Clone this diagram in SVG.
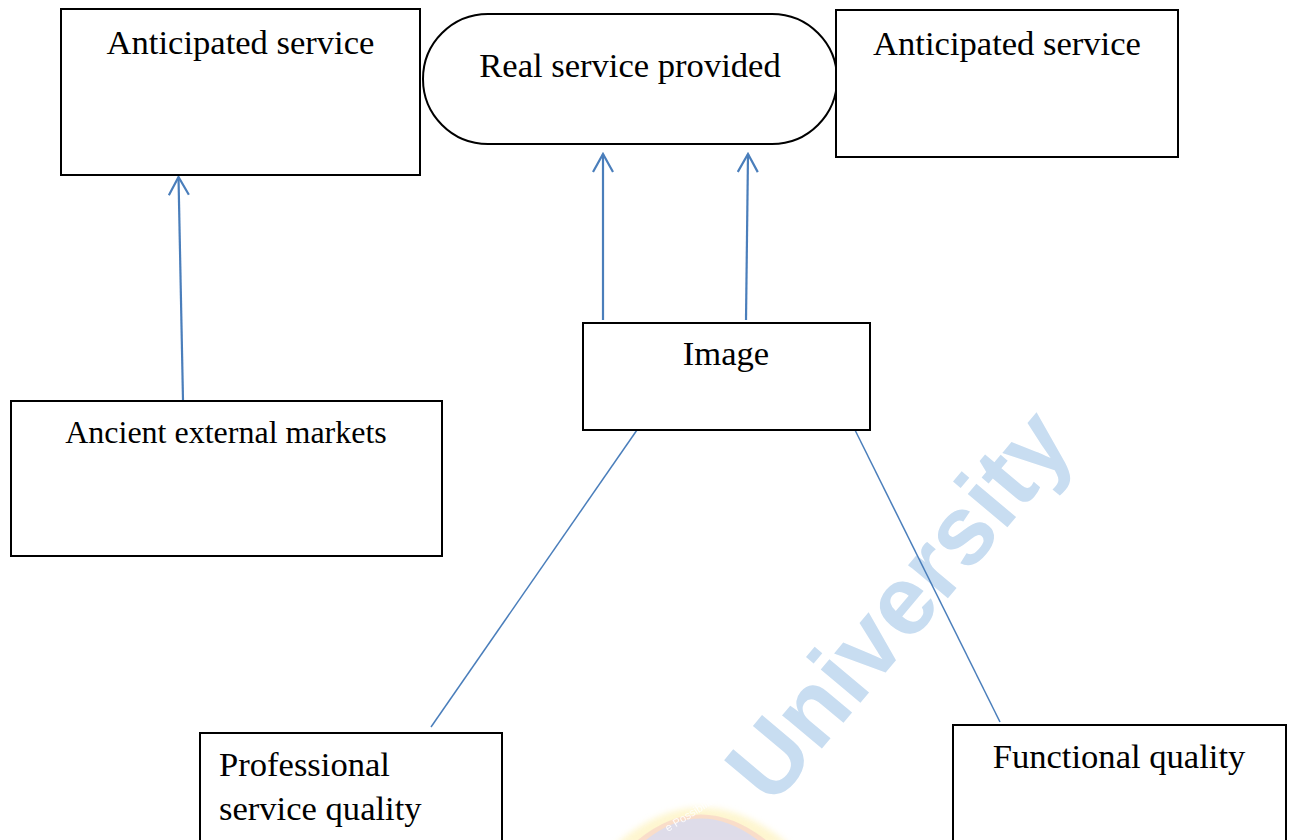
<svg xmlns="http://www.w3.org/2000/svg" width="1293" height="840" viewBox="0 0 1293 840">
  <style>
    .box { fill: #ffffff; stroke: #000000; stroke-width: 2; }
    .label { font-family: "Liberation Serif", "Times New Roman", serif; font-size: 34.6px; fill: #000000; }
    .small { font-size: 32px; }
    .arrow { stroke: #4a7ebb; stroke-width: 2.2; fill: none; marker-end: url(#openHead); }
    .link { stroke: #4a7ebb; stroke-width: 1.5; fill: none; }
    .mark { font-family: "Liberation Sans", Arial, sans-serif; font-weight: bold; font-size: 98px; fill: #c8ddf1; }
  </style>
  <defs>
    <!-- open chevron arrowhead, tip on the line end -->
    <marker id="openHead" viewBox="0 0 22 22" refX="20" refY="11" markerWidth="22" markerHeight="22" markerUnits="userSpaceOnUse" orient="auto">
      <path d="M2 1 L20 11 L2 21" fill="none" stroke="#4a7ebb" stroke-width="2.2"/>
    </marker>
    <filter id="soft" x="-20%" y="-20%" width="140%" height="140%">
      <feGaussianBlur stdDeviation="3"/>
    </filter>
  </defs>

  <rect width="1293" height="840" fill="#ffffff"/>

  <!-- background watermark: faint crest and lettering -->
  <g id="watermark">
    <path d="M615 845 Q700 770 790 845 Z" fill="#fdf0b0" opacity="0.6" filter="url(#soft)"/>
    <path d="M632 845 Q700 784 772 845 Z" fill="#f6c9c4" opacity="0.55"/>
    <path d="M640 845 Q700 792 764 845 Z" fill="#d9dcee" opacity="0.85"/>
    <text x="0" y="0" transform="translate(668,832) rotate(-32)" font-family="Liberation Sans, Arial, sans-serif" font-size="11" fill="#ffffff" opacity="0.9">e Possibilities</text>
    <text class="mark" x="0" y="0" transform="translate(772,808) rotate(-50)">University</text>
  </g>

  <g id="connectors">
    <line class="arrow" x1="183" y1="400" x2="178.5" y2="177"/>
    <line class="arrow" x1="603" y1="320" x2="603" y2="154"/>
    <line class="arrow" x1="746" y1="320" x2="748" y2="154"/>
    <line class="link" x1="637" y1="430" x2="431" y2="727"/>
    <line class="link" x1="855" y1="430" x2="1000" y2="722"/>
  </g>

  <g id="anticipated-left">
    <rect class="box" x="61" y="9" width="359" height="166"/>
    <text class="label" x="240.5" y="54" text-anchor="middle">Anticipated service</text>
  </g>

  <g id="real-service">
    <rect class="box" x="423" y="14" width="414" height="130" rx="65" ry="65"/>
    <text class="label" x="630" y="77" text-anchor="middle">Real service provided</text>
  </g>

  <g id="anticipated-right">
    <rect class="box" x="836" y="10" width="342" height="147"/>
    <text class="label" x="1007" y="55" text-anchor="middle">Anticipated service</text>
  </g>

  <g id="ancient-markets">
    <rect class="box" x="11" y="401" width="431" height="155"/>
    <text class="label small" x="226" y="443" text-anchor="middle">Ancient external markets</text>
  </g>

  <g id="image">
    <rect class="box" x="583" y="323" width="287" height="107"/>
    <text class="label" x="726" y="365" text-anchor="middle">Image</text>
  </g>

  <g id="professional-quality">
    <rect class="box" x="200" y="733" width="302" height="120"/>
    <text class="label" x="219" y="776">Professional</text>
    <text class="label" x="219" y="820">service quality</text>
  </g>

  <g id="functional-quality">
    <rect class="box" x="953" y="725" width="333" height="130"/>
    <text class="label" x="1119" y="768" text-anchor="middle">Functional quality</text>
  </g>
</svg>
